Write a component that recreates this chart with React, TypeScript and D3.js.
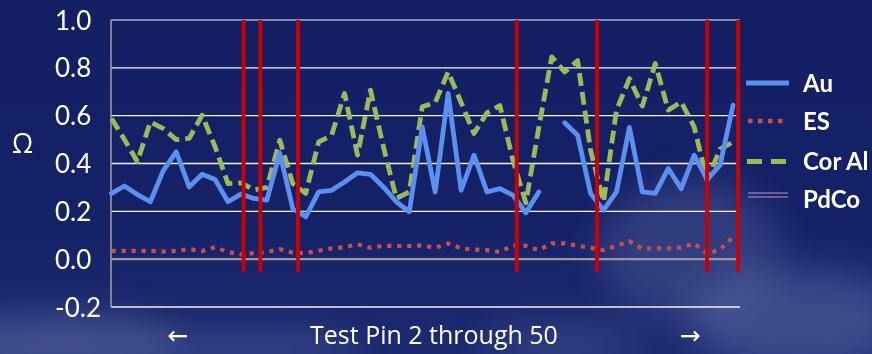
import React from "react";
import * as d3 from "d3";

// Test pins 2..50
const pins: number[] = d3.range(2, 51);

// Resistance readings (Ω) per pin
const au: (number | null)[] = [
  0.275, 0.306, 0.27, 0.24, 0.37, 0.449, 0.302, 0.355, 0.333, 0.24,
  0.272, 0.254, 0.247, 0.444, 0.212, 0.177, 0.281, 0.288, 0.323, 0.361,
  0.355, 0.302, 0.24, 0.198, 0.553, 0.281, 0.693, 0.288, 0.435, 0.281,
  0.295, 0.268, 0.194, 0.281, null, 0.57, 0.518, 0.275, 0.205, 0.281,
  0.551, 0.281, 0.275, 0.379, 0.295, 0.435, 0.333, 0.393, 0.644,
];
const es: (number | null)[] = [
  0.035, 0.035, 0.035, 0.035, 0.032, 0.035, 0.042, 0.034, 0.05, 0.03,
  0.02, 0.025, 0.03, 0.042, 0.027, 0.025, 0.035, 0.045, 0.05, 0.062,
  0.047, 0.056, 0.055, 0.055, 0.058, 0.047, 0.066, 0.045, 0.04, 0.038,
  0.03, 0.058, 0.056, 0.038, 0.066, 0.066, 0.056, 0.047, 0.038, 0.055,
  0.075, 0.044, 0.045, 0.045, 0.048, 0.066, 0.022, 0.04, 0.092,
];
const corAl: (number | null)[] = [
  0.588, 0.5, 0.407, 0.574, 0.546, 0.5, 0.505, 0.602, 0.47, 0.316,
  0.319, 0.29, 0.3, 0.497, 0.316, 0.275, 0.49, 0.518, 0.693, 0.435,
  0.707, 0.47, 0.254, 0.281, 0.637, 0.655, 0.783, 0.655, 0.525, 0.612,
  0.642, 0.414, 0.236, 0.55, 0.846, 0.783, 0.83, 0.456, 0.24, 0.623,
  0.755, 0.64, 0.818, 0.623, 0.658, 0.553, 0.33, 0.46, 0.49,
];
// PdCo has no readings on this run
const pdco: (number | null)[] = [];

// Pin positions flagged with red markers
const markerPins: number[] = [12.2, 13.5, 16.4, 33.3, 39.5, 48.0, 50.4];

const yTicks: number[] = [-0.2, 0, 0.2, 0.4, 0.6, 0.8, 1.0];

const FONT = "Lato, 'Open Sans', sans-serif";
const C_AU = "#5b8ff0";
const C_ES = "#c8504a";
const C_COR = "#9bbb59";
const C_PD = "#8a6fb0";
const C_MARK = "#cc0000";

export default function App() {
  const W = 872;
  const H = 354;
  const plotLeft = 111;
  const plotRight = 740;

  const x = d3.scaleLinear().domain([2, 50]).range([111.5, 733]);
  const y = d3.scaleLinear().domain([-0.2, 1.0]).range([307, 20]);

  const line = d3
    .line<number | null>()
    .defined((d) => d !== null && d !== undefined)
    .x((_, i) => x(pins[i]))
    .y((d) => y(d as number));

  const legend = [
    { name: "Au", ly: 83, ty: 92 },
    { name: "ES", ly: 121, ty: 130 },
    { name: "Cor Al", ly: 161.5, ty: 170 },
    { name: "PdCo", ly: 195, ty: 208 },
  ];

  return (
    <svg
      width={W}
      height={H}
      style={{ position: "absolute", left: 0, top: 0, display: "block" }}
    >
      <defs>
        <linearGradient id="bg" x1="0" y1="0" x2="0" y2="1">
          <stop offset="0" stopColor="#131e63" />
          <stop offset="0.6" stopColor="#162268" />
          <stop offset="1" stopColor="#1c2a70" />
        </linearGradient>
        <filter id="cloud" x="-50%" y="-50%" width="200%" height="200%">
          <feGaussianBlur stdDeviation="18" />
        </filter>
      </defs>
      <rect x={0} y={0} width={W} height={H} fill="url(#bg)" />
      {/* soft clouds near the bottom of the slide */}
      <g filter="url(#cloud)" fill="#8e9ccf">
        <ellipse cx={60} cy={345} rx={120} ry={30} opacity={0.35} />
        <ellipse cx={250} cy={350} rx={110} ry={18} opacity={0.25} />
        <ellipse cx={690} cy={250} rx={90} ry={70} opacity={0.22} />
        <ellipse cx={800} cy={320} rx={110} ry={50} opacity={0.3} />
        <ellipse cx={560} cy={345} rx={80} ry={20} opacity={0.2} />
      </g>

      {/* gridlines */}
      {yTicks.map((t) => {
        const isZero = t === 0;
        const isTop = t === 1.0;
        return (
          <line
            key={t}
            x1={plotLeft}
            x2={plotRight}
            y1={y(t)}
            y2={y(t)}
            stroke={isZero ? "#9a9a9a" : isTop ? "#a9aed0" : "#f2f2f2"}
            strokeWidth={isZero ? 2.2 : 1.4}
          />
        );
      })}
      <line
        x1={plotLeft}
        x2={plotLeft}
        y1={y(1.0)}
        y2={y(-0.2)}
        stroke="#9a9a9a"
        strokeWidth={1.6}
      />

      {/* y tick labels */}
      {yTicks.map((t) => (
        <text
          key={"l" + t}
          x={55}
          y={y(t) + 9.5}
          fill="#ffffff"
          fontFamily={FONT}
          fontSize={26}
        >
          {t.toFixed(1)}
        </text>
      ))}
      <text x={22.5} y={153} fill="#ffffff" fontFamily="'Open Sans', sans-serif" fontSize={27} textAnchor="middle">
        Ω
      </text>

      {/* series */}
      <path
        d={line(es) ?? ""}
        fill="none"
        stroke={C_ES}
        strokeWidth={4.2}
        strokeDasharray="4.2 5.8"
      />
      <path
        d={line(corAl) ?? ""}
        fill="none"
        stroke={C_COR}
        strokeWidth={4.8}
        strokeDasharray="13 6"
        strokeLinejoin="round"
      />
      <path
        d={line(au) ?? ""}
        fill="none"
        stroke={C_AU}
        strokeWidth={4.8}
        strokeLinejoin="round"
        strokeLinecap="round"
      />
      <path d={line(pdco) ?? ""} fill="none" stroke={C_PD} strokeWidth={1.5} />

      {/* red pin markers */}
      {markerPins.map((p) => (
        <line
          key={"m" + p}
          x1={x(p)}
          x2={x(p)}
          y1={y(1.0)}
          y2={271.5}
          stroke={C_MARK}
          strokeWidth={4}
        />
      ))}

      {/* x axis caption */}
      <text x={178} y={344} fill="#ffffff" fontFamily="'DejaVu Sans', sans-serif" fontSize={25} textAnchor="middle">
        ←
      </text>
      <text x={310} y={344} fill="#ffffff" fontFamily="'Open Sans', sans-serif" fontSize={25}>
        Test Pin 2 through 50
      </text>
      <text x={690} y={344} fill="#ffffff" fontFamily="'DejaVu Sans', sans-serif" fontSize={25} textAnchor="middle">
        →
      </text>

      {/* legend */}
      {legend.map((l) => (
        <g key={l.name}>
          {l.name === "Au" && (
            <line x1={746} x2={789} y1={l.ly} y2={l.ly} stroke={C_AU} strokeWidth={5} />
          )}
          {l.name === "ES" && (
            <line
              x1={748}
              x2={787}
              y1={l.ly}
              y2={l.ly}
              stroke={C_ES}
              strokeWidth={4.5}
              strokeDasharray="4.5 5.5"
            />
          )}
          {l.name === "Cor Al" && (
            <line
              x1={747}
              x2={787}
              y1={l.ly}
              y2={l.ly}
              stroke={C_COR}
              strokeWidth={5}
              strokeDasharray="15 9"
            />
          )}
          {l.name === "PdCo" && (
            <g stroke={C_PD} strokeWidth={1.6}>
              <line x1={748} x2={788} y1={l.ly - 2} y2={l.ly - 2} />
              <line x1={748} x2={788} y1={l.ly + 2} y2={l.ly + 2} />
            </g>
          )}
          <text
            x={803}
            y={l.ty}
            fill="#ffffff"
            fontFamily={FONT}
            fontSize={24}
            fontWeight="bold"
          >
            {l.name}
          </text>
        </g>
      ))}
    </svg>
  );
}
